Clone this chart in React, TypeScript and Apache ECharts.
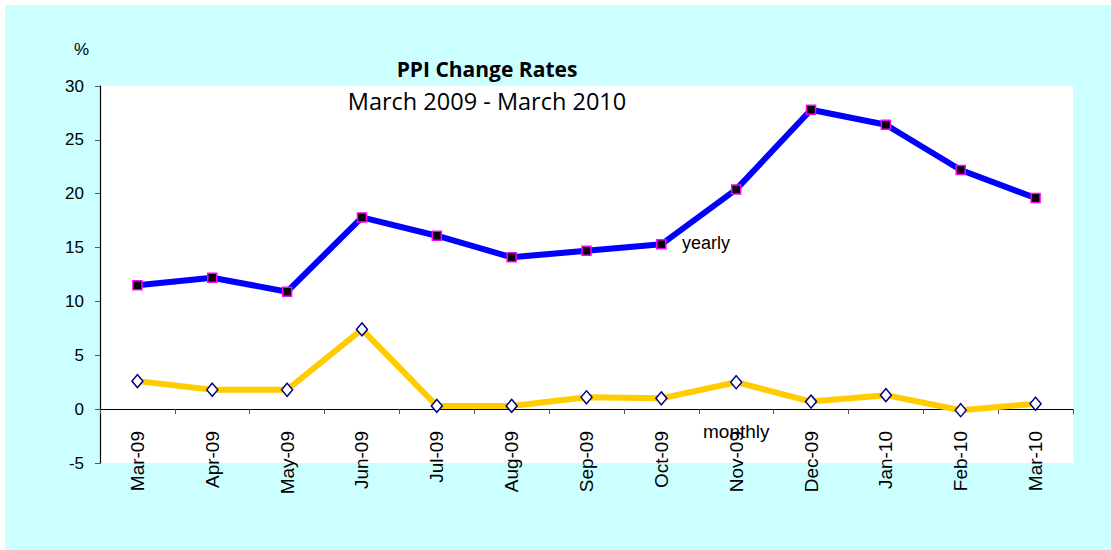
import React, { useEffect, useRef } from "react";
import * as echarts from "echarts";

const categories = ["Mar-09", "Apr-09", "May-09", "Jun-09", "Jul-09", "Aug-09", "Sep-09", "Oct-09", "Nov-09", "Dec-09", "Jan-10", "Feb-10", "Mar-10"];
const yearly = [11.5, 12.2, 10.9, 17.8, 16.1, 14.1, 14.7, 15.3, 20.4, 27.8, 26.4, 22.2, 19.6];
const monthly = [2.6, 1.8, 1.8, 7.4, 0.3, 0.3, 1.1, 1.0, 2.5, 0.7, 1.3, -0.1, 0.5];
const yTicks = { min: -5, max: 30, interval: 5 };

export default function App() {
  const ref = useRef<HTMLDivElement>(null);
  useEffect(() => {
    document.body.style.margin = "0";
    const chart = echarts.init(ref.current!, null, { renderer: "svg" });
    const font = "'Liberation Sans', Arial, sans-serif";
    chart.setOption({
      animation: false,
      backgroundColor: "#CCFFFF",
      grid: {
        left: 95,
        right: 38,
        top: 81,
        bottom: 87,
        show: true,
        backgroundColor: "#FFFFFF",
        borderWidth: 0,
      },
      xAxis: {
        type: "category",
        data: categories,
        boundaryGap: true,
        axisLine: { onZero: true, lineStyle: { color: "#000", width: 1.2 } },
        axisTick: { show: true, length: 5, inside: false, alignWithLabel: false, lineStyle: { color: "#555" } },
        axisLabel: { rotate: 90, margin: -32, fontSize: 19, color: "#000", fontFamily: font, interval: 0 },
        splitLine: { show: false },
      },
      yAxis: {
        type: "value",
        min: yTicks.min,
        max: yTicks.max,
        interval: yTicks.interval,
        axisLine: { show: true, lineStyle: { color: "#000", width: 1.2 } },
        axisTick: { show: true, length: 5, lineStyle: { color: "#555" } },
        axisLabel: { fontSize: 17, color: "#000", fontFamily: font, margin: 16 },
        splitLine: { show: false },
      },
      graphic: [
        { type: "text", left: 69, top: 36, style: { text: "%", fontSize: 17, fontFamily: font, fill: "#000" } },
        { type: "text", x: 482, y: 64, style: { text: "PPI Change Rates", fontSize: 21, fontWeight: "bold", fontFamily: "'Open Sans', 'Noto Sans', sans-serif", fill: "#000", align: "center", verticalAlign: "middle" } },
        { type: "text", x: 482, y: 96, style: { text: "March 2009 - March 2010", fontSize: 23.5, fontFamily: "'Open Sans', 'Noto Sans', sans-serif", fill: "#000", align: "center", verticalAlign: "middle" } },
        { type: "text", x: 677, y: 238, style: { text: "yearly", fontSize: 18, fontFamily: font, fill: "#000", align: "left", verticalAlign: "middle" } },
        { type: "text", x: 698, y: 426, style: { text: "monthly", fontSize: 19, fontFamily: font, fill: "#000", align: "left", verticalAlign: "middle" } },
      ],
      series: [
        {
          name: "yearly",
          type: "line",
          data: yearly,
          symbol: "rect",
          symbolSize: 9,
          lineStyle: { color: "#0000FF", width: 6 },
          itemStyle: { color: "#000000", borderColor: "#FF00FF", borderWidth: 1.5 },
          z: 3,
        },
        {
          name: "monthly",
          type: "line",
          data: monthly,
          symbol: "diamond",
          symbolSize: [11, 13],
          lineStyle: { color: "#FFCC00", width: 6 },
          itemStyle: { color: "#FFFFFF", borderColor: "#000080", borderWidth: 1.5 },
          z: 2,
        },
      ],
    });
    return () => chart.dispose();
  }, []);
  return (
    <div style={{ width: 1111, height: 550, background: "#FFFFFF", position: "relative" }}>
      <div ref={ref} style={{ position: "absolute", left: 5, top: 5, width: 1106, height: 545 }} />
    </div>
  );
}
